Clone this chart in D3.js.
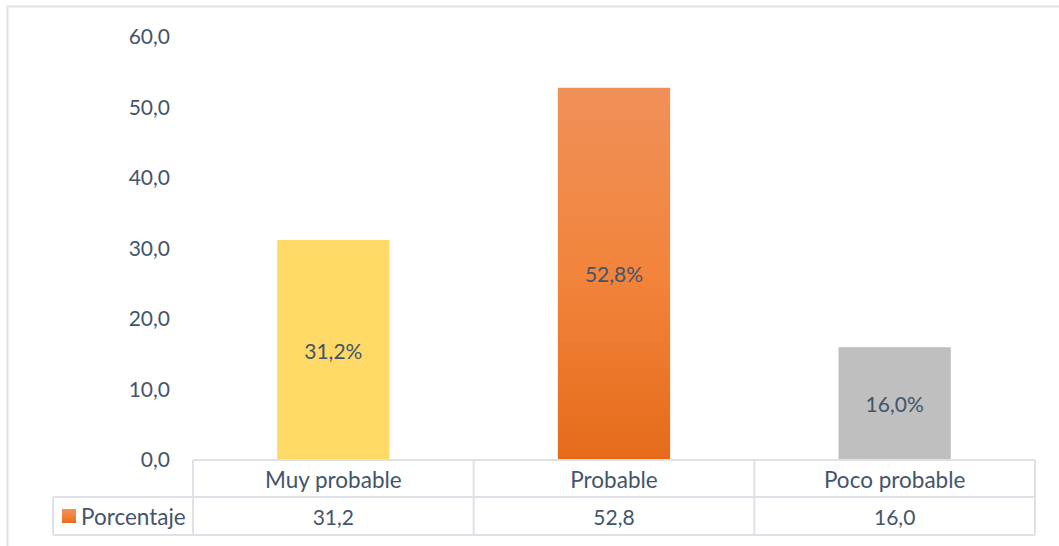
<!DOCTYPE html>
<html>
<head>
<meta charset="utf-8">
<script src="https://cdn.jsdelivr.net/npm/d3@7"></script>
<style>
  html, body { margin: 0; padding: 0; background: #ffffff; }
  svg { display: block; }
  text { font-family: Lato, "Liberation Sans", sans-serif; fill: #44546A; }
</style>
</head>
<body>
<svg id="chart" width="1059" height="546"></svg>
<script>
// Chart data
const categories = ["Muy probable", "Probable", "Poco probable"];
const values = [31.2, 52.8, 16.0];
const seriesName = "Porcentaje";
const yTicks = [0, 10, 20, 30, 40, 50, 60];
const barColors = ["#FFD966", "url(#orangeGrad)", "#BFBFBF"];

const W = 1059, H = 546;
const svg = d3.select("#chart");
const fontSize = 22.5;
const axisFontSize = 21;
const gridColor = "#DEE2E8";
const comma = v => d3.format(".1f")(v).replace(".", ",");

// Gradient for the middle bar
const defs = svg.append("defs");
const grad = defs.append("linearGradient").attr("id", "orangeGrad")
  .attr("x1", 0).attr("y1", 0).attr("x2", 0).attr("y2", 1);
grad.append("stop").attr("offset", "0%").attr("stop-color", "#F09058");
grad.append("stop").attr("offset", "50%").attr("stop-color", "#F2843C");
grad.append("stop").attr("offset", "100%").attr("stop-color", "#E56B19");

// Outer chart frame
svg.append("rect")
  .attr("x", 7.5).attr("y", 6.5)
  .attr("width", W + 10).attr("height", H + 10)
  .attr("fill", "none").attr("stroke", gridColor).attr("stroke-width", 2);

// Scales
const tableLeft = 193, tableRight = 1035, legendLeft = 53;
const y = d3.scaleLinear().domain([0, 60]).range([460, 37]);
const x = d3.scaleBand().domain(categories).range([tableLeft, tableRight])
  .paddingInner(0.6).paddingOuter(0.3);
const step = x.step();

// Y axis labels
const yAxis = d3.axisLeft(y).tickValues(yTicks).tickFormat(comma).tickSize(0).tickPadding(0);
const yg = svg.append("g").attr("transform", "translate(170,0)").call(yAxis);
yg.select(".domain").remove();
yg.selectAll("text")
  .attr("font-size", axisFontSize)
  .style("font-family", 'Lato, "Liberation Sans", sans-serif')
  .attr("fill", "#44546A");

// Bars
svg.append("g").selectAll("rect")
  .data(values)
  .join("rect")
  .attr("x", (d, i) => x(categories[i]))
  .attr("y", d => y(d))
  .attr("width", x.bandwidth())
  .attr("height", d => y(0) - y(d))
  .attr("fill", (d, i) => barColors[i]);

// Bar value labels
svg.append("g").selectAll("text")
  .data(values)
  .join("text")
  .attr("x", (d, i) => x(categories[i]) + x.bandwidth() / 2)
  .attr("y", d => (y(d) + y(0)) / 2)
  .attr("text-anchor", "middle")
  .attr("dominant-baseline", "central")
  .attr("font-size", axisFontSize)
  .text(d => comma(d) + "%");

// Data table
const row1 = 460, row2 = 497, row3 = 535;
const colEdges = categories.map(c => x(c) - (step - x.bandwidth()) / 2).concat([tableRight]);
const tg = svg.append("g").attr("stroke", gridColor).attr("stroke-width", 2).attr("fill", "none");
tg.append("line").attr("x1", tableLeft).attr("x2", tableRight).attr("y1", row1).attr("y2", row1);
tg.append("line").attr("x1", legendLeft).attr("x2", tableRight).attr("y1", row2).attr("y2", row2);
tg.append("line").attr("x1", legendLeft).attr("x2", tableRight).attr("y1", row3).attr("y2", row3);
tg.append("line").attr("x1", legendLeft).attr("x2", legendLeft).attr("y1", row2).attr("y2", row3);
colEdges.forEach(cx => {
  tg.append("line").attr("x1", cx).attr("x2", cx).attr("y1", row1).attr("y2", row3);
});

// Category row
svg.append("g").selectAll("text")
  .data(categories)
  .join("text")
  .attr("x", c => x(c) + x.bandwidth() / 2)
  .attr("y", (row1 + row2) / 2 + 1)
  .attr("text-anchor", "middle")
  .attr("dominant-baseline", "central")
  .attr("font-size", fontSize)
  .text(c => c);

// Value row
svg.append("g").selectAll("text")
  .data(values)
  .join("text")
  .attr("x", (d, i) => x(categories[i]) + x.bandwidth() / 2)
  .attr("y", (row2 + row3) / 2)
  .attr("text-anchor", "middle")
  .attr("dominant-baseline", "central")
  .attr("font-size", axisFontSize)
  .text(d => comma(d));

// Legend key
svg.append("rect")
  .attr("x", 62).attr("y", 509).attr("width", 14).attr("height", 14)
  .attr("fill", "url(#orangeGrad)");
svg.append("text")
  .attr("x", 81).attr("y", (row2 + row3) / 2)
  .attr("dominant-baseline", "central")
  .attr("font-size", fontSize)
  .text(seriesName);
</script>
</body>
</html>
